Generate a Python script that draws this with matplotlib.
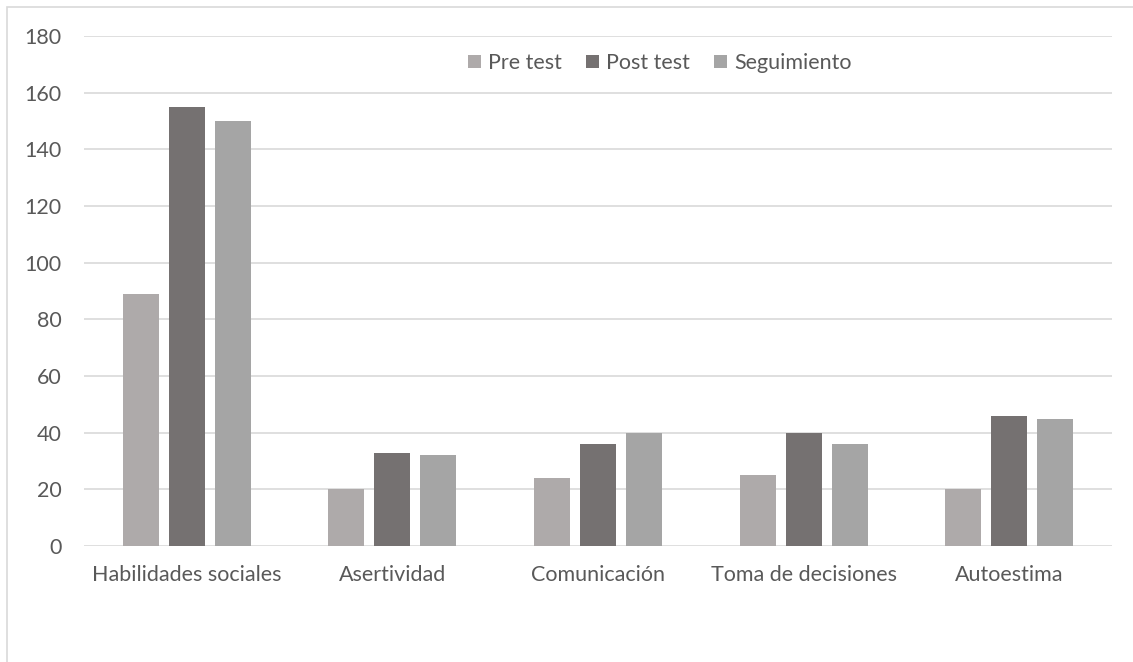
import numpy as np
import matplotlib
matplotlib.use('Agg')
import matplotlib.pyplot as plt
from matplotlib.patches import Rectangle

categorias = ['Habilidades sociales', 'Asertividad', 'Comunicación',
              'Toma de decisiones', 'Autoestima']
pre_test = [89, 20, 24, 25, 20]
post_test = [155, 33, 36, 40, 46]
seguimiento = [150, 32, 40, 36, 45]

series = ['Pre test', 'Post test', 'Seguimiento']
colores = ['#AEAAAA', '#757171', '#A5A5A5']
texto = '#595959'

plt.rcParams['font.family'] = ['Lato', 'DejaVu Sans']

fig = plt.figure(figsize=(11.33, 6.62), dpi=100)
ax = fig.add_axes([0.0741, 0.1752, 0.9074, 0.7704])

# marco del grafico
fig.patches.append(Rectangle((7 / 1133, -0.01), 1.2, 1 - 7 / 662 + 0.01,
                             transform=fig.transFigure, fill=False,
                             edgecolor='#D9D9D9', linewidth=1.2))

x = np.arange(len(categorias))
ancho = 0.175
paso = 0.224
for i, (datos, nombre) in enumerate(zip([pre_test, post_test, seguimiento], series)):
    ax.bar(x + (i - 1) * paso, datos, ancho, color=colores[i], label=nombre,
           zorder=3)

ax.set_xlim(-0.5, len(categorias) - 0.5)
ax.set_ylim(0, 180)
ax.set_yticks(np.arange(0, 181, 20))
ax.set_xticks(x)
ax.set_xticklabels(categorias)
ax.grid(axis='y', color='#D9D9D9', linewidth=1.2, zorder=0)
for lado in ax.spines.values():
    lado.set_visible(False)
ax.tick_params(axis='both', length=0, labelsize=15.5, labelcolor=texto)
ax.tick_params(axis='x', pad=14)
ax.tick_params(axis='y', pad=16)

ley = ax.legend(loc='center', bbox_to_anchor=(0.560, 0.947), ncol=3,
                frameon=False, fontsize=15.5, handlelength=0.6, handleheight=0.6,
                handletextpad=0.35, columnspacing=1.1)
for t in ley.get_texts():
    t.set_color(texto)

fig.savefig('out.png', dpi=100)
